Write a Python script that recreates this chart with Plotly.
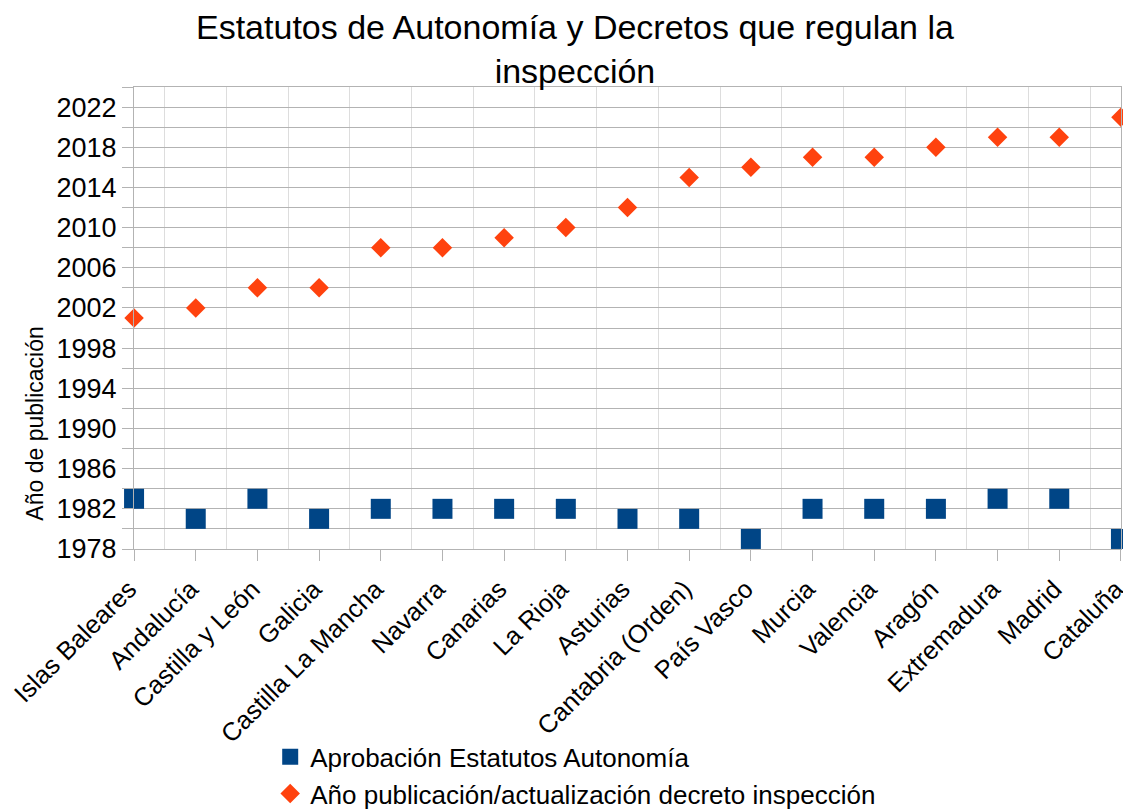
import plotly.graph_objects as go

regiones = ["Islas Baleares", "Andalucía", "Castilla y León", "Galicia",
            "Castilla La Mancha", "Navarra", "Canarias", "La Rioja", "Asturias",
            "Cantabria (Orden)", "País Vasco", "Murcia", "Valencia", "Aragón",
            "Extremadura", "Madrid", "Cataluña"]
estatutos = [1983, 1981, 1983, 1981, 1982, 1982, 1982, 1982, 1981,
             1981, 1979, 1982, 1982, 1982, 1983, 1983, 1979]
decretos = [2001, 2002, 2004, 2004, 2008, 2008, 2009, 2010, 2012,
            2015, 2016, 2017, 2017, 2018, 2019, 2019, 2021]
y_ticks = [1978, 1982, 1986, 1990, 1994, 1998, 2002, 2006, 2010, 2014, 2018, 2022]

pos = list(range(len(regiones)))
font = "Liberation Sans, Arial, sans-serif"

fig = go.Figure()

fig.add_trace(go.Scatter(
    x=pos, y=estatutos, mode="markers", name="Aprobación Estatutos Autonomía",
    marker=dict(symbol="square", size=20, color="#004586"),
    cliponaxis=False,
))
fig.add_trace(go.Scatter(
    x=pos, y=decretos, mode="markers",
    name="Año publicación/actualización decreto inspección",
    marker=dict(symbol="diamond", size=15, color="#ff420e"),
    cliponaxis=False,
))

# page body has an 8px margin, so the figure is sized 8px smaller
fig.update_layout(
    width=1123, height=802,
    margin=dict(l=126, r=10, t=79, b=261, autoexpand=False),
    paper_bgcolor="white", plot_bgcolor="white",
    font=dict(family=font, color="black"),
    legend=dict(
        orientation="v", x=0.138, xanchor="left", y=-0.399, yanchor="top",
        font=dict(size=26), itemsizing="trace",
    ),
    showlegend=True,
)

# title and y-axis title as annotations (placed like the original)
fig.add_annotation(
    text="Estatutos de Autonomía y Decretos que regulan la<br>inspección",
    xref="paper", yref="paper", x=0.447, y=1.083,
    xanchor="center", yanchor="middle", showarrow=False,
    font=dict(size=34, family=font),
)
fig.add_annotation(
    text="Año de publicación", textangle=-90,
    xref="paper", yref="paper", x=-0.1, y=0.272,
    xanchor="center", yanchor="middle", showarrow=False,
    font=dict(size=23, family=font),
)

fig.update_xaxes(
    range=[-0.001, len(regiones) - 1 + 0.001],
    tickmode="array", tickvals=pos, ticktext=regiones,
    tickangle=-45, tickfont=dict(size=25.5), ticklabeloverflow="allow",
    ticklabelshift=-5, ticklabelstandoff=3,
    ticks="outside", ticklen=11, tickcolor="#b3b3b3",
    showgrid=False, zeroline=False, automargin=False,
    showline=True, linecolor="#b3b3b3", mirror=True,
    minor=dict(tick0=0.5, dtick=1, showgrid=True, gridcolor="#dddddd", ticklen=0),
)
fig.update_yaxes(
    range=[1978, 2024],
    tickmode="array", tickvals=y_ticks,
    tickfont=dict(size=27), automargin=False,
    ticks="outside", ticklen=11, tickcolor="#b3b3b3",
    showgrid=True, gridcolor="#b3b3b3",
    zeroline=False,
    showline=True, linecolor="#b3b3b3", mirror=True,
    minor=dict(tick0=1978, dtick=2, showgrid=True, gridcolor="#b3b3b3",
               ticks="outside", ticklen=11, tickcolor="#b3b3b3"),
)

fig.write_html("out.html")
